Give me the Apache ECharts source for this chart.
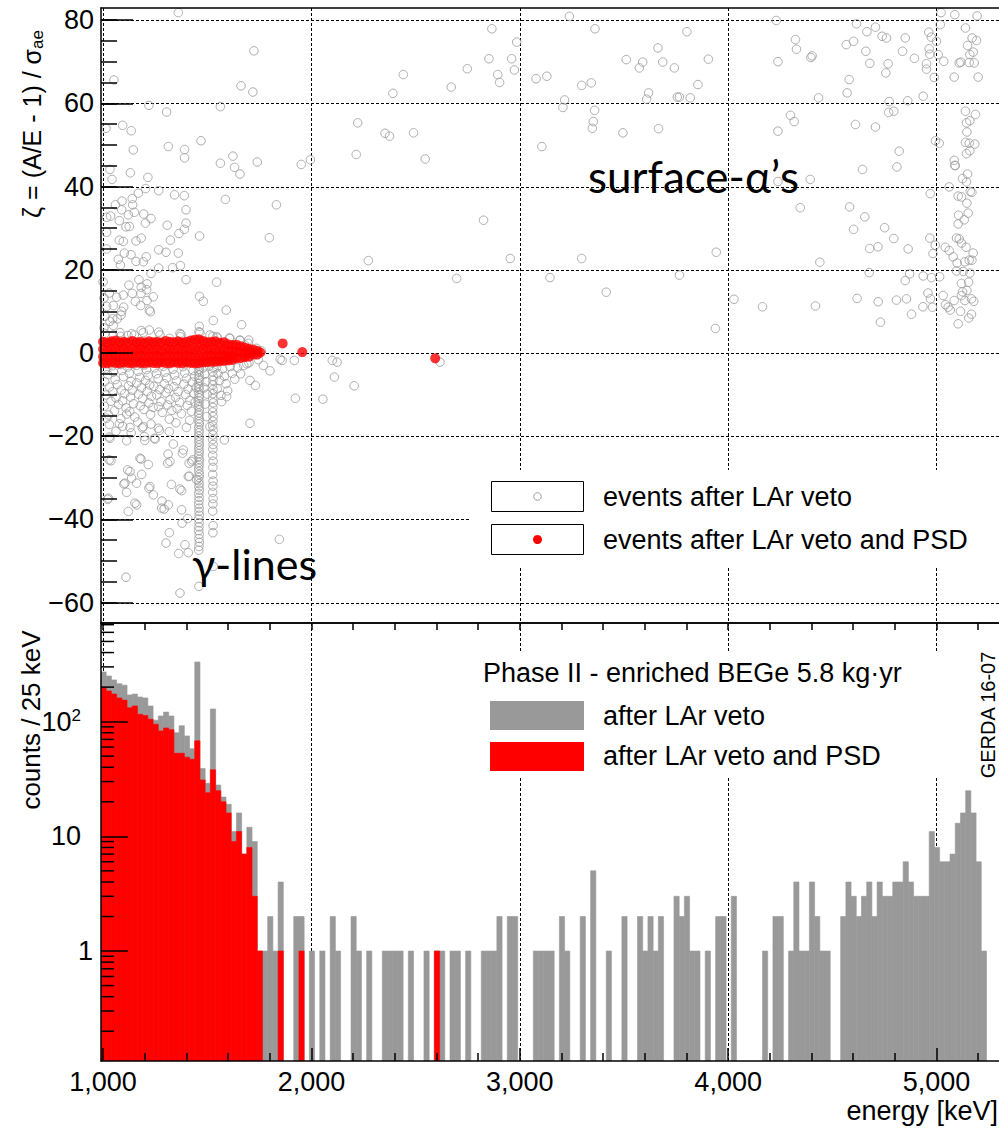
<!DOCTYPE html>
<html><head><meta charset="utf-8">
<script src="https://cdn.jsdelivr.net/npm/echarts@6/dist/echarts.min.js"></script>
<style>html,body{margin:0;padding:0;background:#fff}#c{width:999px;height:1128px}</style>
</head><body><div id="c"></div>
<script>
// ---------- axis ranges / ticks ----------
const energyMin = 990, energyMax = 5300;
const zetaMin = -64.9, zetaMax = 82.9;
const countsMin = 0.11, countsMax = 724;
const energyTicks = [1000, 2000, 3000, 4000, 5000];
const energyMinorTicks = [1200,1400,1600,1800,2200,2400,2600,2800,3200,3400,3600,3800,4200,4400,4600,4800,5200];
const energyTopTicks = [1000,1200,1400,1600,1800,2000,2200,2400,2600,2800,3000,3200,3400,3600,3800,4000,4200,4400,4600,4800,5000,5200];
const zetaTicks = [-60, -40, -20, 0, 20, 40, 60, 80];
const zetaMinorTicks = [-60,-55,-50,-45,-40,-35,-30,-25,-20,-15,-10,-5,0,5,10,15,20,25,30,35,40,45,50,55,60,65,70,75,80];
const countsMinorTicks = [0.2,0.3,0.4,0.5,0.6,0.7,0.8,0.9,2,3,4,5,6,7,8,9,20,30,40,50,60,70,80,90,200,300,400,500,600,700];

// ---------- histogram (25 keV bins starting at 990 keV) ----------
const binStart = 990, binWidth = 25;
const countsAfterLArVeto = [
 271,250,231,214,208,171,174,164,161,137,
 103,112,121,112,80,92,75,58,331,39,
 29,129,28,22,19,11,16,7,12,9,
 1,1,2,1,4,0,0,2,2,0,
 1,0,1,0,2,1,0,0,2,1,
 0,1,0,0,1,1,1,1,0,1,
 0,0,1,0,1,1,0,1,1,0,
 1,0,0,1,1,1,2,0,2,2,
 0,0,0,1,1,1,1,0,2,1,
 0,0,2,0,5,0,0,1,0,0,
 2,0,0,2,1,2,1,2,0,0,
 3,2,3,1,1,0,1,0,2,2,
 0,3,0,0,0,0,0,1,0,2,
 2,0,1,4,1,1,4,2,1,1,
 0,0,2,4,3,2,3,4,2,4,
 3,3,4,4,6,4,3,3,3,11,
 8,6,6,7,13,16,25,16,6,1];
const countsAfterLArVetoPSD = [
 198,185,174,161,154,132,137,116,113,105,
 95,83,88,85,53,53,49,47,68,31,
 24,38,25,20,16,9,11,7,8,3,
 1,0,0,0,1,0,0,0,1,0,
 0,0,0,0,0,0,0,0,0,0,
 0,0,0,0,0,0,0,0,0,0,
 0,0,0,0,1,0,0,0,0,0,
 0,0,0,0,0,0,0,0,0,0,
 0,0,0,0,0,0,0,0,0,0,
 0,0,0,0,0,0,0,0,0,0,
 0,0,0,0,0,0,0,0,0,0,
 0,0,0,0,0,0,0,0,0,0,
 0,0,0,0,0,0,0,0,0,0,
 0,0,0,0,0,0,0,0,0,0,
 0,0,0,0,0,0,0,0,0,0,
 0,0,0,0,0,0,0,0,0,0,
 0,0,0,0,0,0,0,0,0,0];

// ---------- scatter: events after LAr veto [energy keV, zeta] ----------
const lowEnergyHighZeta = [
[1361,81.8],[1724,72.6],[1052,65.6],[1662,64.2],[1719,62.7],[1220,59.5],[1305,57.9],[1563,59.2],[1014,54.0],[1094,54.7],
[1135,53.4],[1470,51.0],[1145,48.8],[1313,49.6],[1391,48.9],[1391,46.9],[1623,47.3],[1563,45.6],[1631,44.6],[1657,43.0],
[1740,45.9],[1951,45.3],[1995,46.4],[1033,44.1],[1043,41.7],[1131,43.3],[1215,42.2],[1204,39.5],[1267,39.0],[1343,38.0],
[1390,37.8],[1587,36.9],[1832,35.6],[1059,35.6],[1091,36.5],[1140,37.1],[1169,38.4],[1142,35.6],[1089,34.4],[1121,33.2],
[1150,33.8],[1195,33.4],[1230,32.3],[1203,31.2],[1398,34.4],[1398,31.2],[1390,29.7],[1308,30.7],[1364,28.7],[1323,27.1],
[1463,28.1],[1798,27.7],[1017,32.6],[1036,32.9],[1078,31.8],[1110,30.3],[1126,30.4],[1017,29.0],[1078,27.1],[1097,26.8],
[1158,26.9],[1183,27.6],[1017,25.0],[1102,24.0],[1134,23.6],[1073,22.5],[1083,21.1],[1158,22.0],[1193,21.9],[1207,23.1],
[1267,24.8],[1302,24.2],[1361,24.0],[1334,20.5],[1371,21.0],[1267,20.4],[1230,19.1],[1398,17.6],[1545,17.0],[1172,17.6],
[1124,16.3],[1183,15.8],[1211,16.6],[1209,15.2],[1140,14.3],[1182,14.3],[1030,14.4],[1004,13.2],[1065,13.4],[1097,13.9],
[1155,12.4],[1211,12.6],[1241,13.5],[1463,13.6],[1481,12.4],[1017,11.2],[1049,11.4],[1099,11.0],[1180,11.4],[1089,10.0],
[1222,10.3],[1227,9.9],[1591,10.3],[1009,8.8],[1046,8.2],[1068,8.2],[1086,9.1],[1529,7.8],[1665,6.8],[1462,6.4],
[1460,5.1],[1183,5.4],[1222,5.5],[1267,5.0],[1374,4.4],[1372,3.9],[1318,3.5],[1527,4.0],[1548,3.6],[1606,3.6],
[1657,3.0],[1699,3.1],[1084,4.0],[1119,4.2],[1150,4.3],[1004,6.0],[1049,6.6],[1033,7.6],[1000,17.1],
[1009,4.7],[1049,4.3],[1081,4.9],[1137,4.6],[1193,4.9],[1273,4.3],[1369,4.7],[1465,4.9],[1513,4.3],[1545,3.9],
[1609,3.5],[1657,3.1],[1697,2.3],[1737,1.1],[1725,-0.5],[1745,-1.6],[1700,-2.4],[1680,1.9],[1760,0.5]];
const lowEnergyCloud = [
[1004,-2.6],[1012,-3.8],[1022,-5.2],[1008,-6.9],[1030,-8.2],[1015,-10.1],[1038,-11.6],[1006,-12.8],[1026,-14.9],[1044,-3.1],
[1050,-4.6],[1058,-6.4],[1068,-7.6],[1046,-9.3],[1062,-10.8],[1074,-12.4],[1055,-13.9],[1083,-2.8],[1090,-4.2],[1098,-5.7],
[1087,-8.9],[1104,-9.8],[1094,-11.5],[1110,-13.2],[1085,-15.8],[1118,-3.4],[1126,-4.9],[1134,-6.8],[1122,-7.9],[1140,-9.0],
[1132,-10.6],[1146,-12.2],[1128,-14.1],[1152,-15.4],[1160,-3.0],[1168,-4.4],[1176,-5.9],[1162,-7.2],[1184,-8.4],[1170,-9.9],
[1190,-11.0],[1178,-12.7],[1196,-13.6],[1166,-16.6],[1200,-2.9],[1208,-4.0],[1216,-5.4],[1204,-6.6],[1224,-7.7],[1212,-9.2],
[1232,-10.4],[1220,-12.0],[1240,-13.1],[1228,-14.8],[1248,-3.6],[1256,-5.0],[1264,-6.2],[1244,-8.0],[1272,-8.8],[1258,-10.1],
[1278,-11.7],[1266,-12.9],[1284,-14.3],[1290,-3.2],[1298,-4.6],[1306,-6.0],[1294,-7.4],[1314,-8.6],[1302,-9.6],[1322,-11.2],
[1310,-12.5],[1330,-13.8],[1318,-15.9],[1336,-3.9],[1344,-5.3],[1352,-6.7],[1340,-8.1],[1360,-9.3],[1348,-10.7],[1368,-11.9],
[1356,-13.4],[1376,-14.6],[1384,-3.3],[1392,-4.8],[1400,-6.1],[1388,-7.5],[1408,-8.7],[1396,-10.0],[1416,-11.4],[1404,-12.6],
[1424,-14.0],[1432,-4.2],[1440,-5.6],[1428,-7.0],[1446,-8.3],[1436,-9.7],[1442,-11.8],[1480,-3.6],[1488,-5.1],[1494,-6.9],
[1484,-8.4],[1500,-9.9],[1490,-12.3],[1510,-3.1],[1545,-3.4],[1552,-5.0],[1560,-6.6],[1548,-8.6],[1566,-10.2],[1574,-3.8],
[1582,-5.6],[1590,-7.4],[1598,-9.1],[1610,-3.3],[1620,-4.9],[1632,-6.3],[1645,-3.6],[1660,-5.0],[1675,-3.0],[1690,-2.6],
[1030,-17.2],[1062,-18.8],[1094,-17.6],[1135,-19.2],[1188,-18.0],[1230,-17.1],[1270,-18.6],[1318,-18.9],[1350,-16.8],[1400,-17.9],
[1415,-16.2],[1030,-20.2],[1200,-21.0],[1250,-20.7],[1497,-15.3],[1513,-17.7],[1569,-11.7],[1593,-10.5],
[1017,-15.7],[1029,-25.7],[1038,-25.9],[1022,-35.2],[1033,-20.5],[1113,-21.1],[1078,-17.0],[1129,-17.9],[1193,-17.7],[1113,-14.7],
[1118,-28.1],[1129,-28.5],[1100,-31.5],[1113,-33.5],[1161,-31.3],[1185,-29.2],[1182,-25.5],[1217,-26.8],[1220,-32.5],[1241,-34.1],
[1161,-36.5],[1121,-38.1],[1283,-35.6],[1293,-37.5],[1313,-36.5],[1198,-20.1],[1246,-20.5],[1265,-18.1],[1337,-21.9],[1381,-24.1],
[1312,-24.3],[1310,-26.5],[1328,-31.6],[1369,-32.7],[1377,-33.1],[1414,-29.6],[1413,-26.5],[1430,-25.7],[1449,-30.5],
[1177,-25.3],[1321,-26.1],[1385,-23.3],[1425,-26.1],[1105,-31.3],[1137,-30.1],[1225,-32.1],[1409,-29.7],[1025,-34.9],[1153,-36.1],
[1281,-37.3],[1377,-37.7],[1379,-40.9],[1318,-43.2],[1302,-45.7],[1393,-46.1],[1363,-48.2],[1409,-48.0],[1406,-39.8],
[1110,-53.9],[1369,-57.7],[1460,-56.1],[1529,-51.3],[1582,-20.9],[1705,-16.9],[1846,-44.8],
[1769,-3.0],[1801,-4.3],[1705,-6.6],[1731,-7.8],[1859,-1.8],[1850,-1.5],[1918,-1.8],[1923,-10.9],[2055,-11.1],[2100,-1.8],
[2123,-2.2],[2110,-5.8],[2205,-7.9],[2617,-2.2]];
const gammaLineK40 = [
[1459,-1.9],[1461,-2.6],[1460,-3.2],[1462,-3.9],[1459,-4.5],[1461,-5.3],[1460,-6.0],[1462,-6.6],[1459,-7.4],[1460,-8.1],
[1461,-8.7],[1459,-9.5],[1462,-10.2],[1460,-10.8],[1461,-11.6],[1459,-12.3],[1460,-12.9],[1462,-13.7],[1460,-14.4],[1459,-15.0],
[1461,-15.8],[1460,-16.5],[1462,-17.1],[1459,-17.9],[1461,-18.6],[1460,-19.2],[1459,-20.0],[1461,-20.7],[1460,-21.4],[1462,-22.1],
[1459,-22.8],[1461,-23.5],[1460,-24.2],[1459,-24.9],[1462,-25.6],[1460,-26.3],[1461,-27.0],[1459,-27.7],[1460,-28.5],[1462,-29.2],
[1460,-29.9],[1459,-30.7],[1461,-31.4],[1460,-32.2],[1462,-33.0],[1459,-33.8],[1461,-34.7],[1460,-35.5],[1459,-36.4],[1461,-37.3],
[1460,-38.1],[1462,-39.0],[1459,-39.9],[1461,-40.8],[1460,-41.8],[1459,-42.7],[1461,-43.6],[1460,-44.6],[1462,-45.5],[1460,-46.5],[1459,-47.4]];
const gammaLineK42 = [
[1527,-2.3],[1528,-3.4],[1526,-4.5],[1528,-5.6],[1527,-6.6],[1526,-7.7],[1528,-8.8],[1527,-9.8],[1526,-10.9],[1528,-12.0],
[1527,-13.1],[1526,-14.2],[1528,-15.3],[1527,-16.4],[1526,-17.5],[1528,-18.6],[1527,-19.7],[1526,-20.8],[1528,-22.0],[1527,-23.1],
[1526,-24.6],[1528,-26.0],[1527,-27.5],[1526,-29.2],[1528,-30.8],[1527,-32.0],[1526,-33.5],[1528,-35.0],[1527,-36.3],[1526,-38.0],
[1528,-41.5],[1527,-43.2]];
const midEnergyAlphas = [
[3238,80.9],[2866,77.9],[3361,77.9],[2985,74.7],[2852,70.7],[2961,70.7],[2974,68.0],[2894,66.9],[2903,65.0],[2748,68.3],
[2671,63.9],[2441,66.9],[2391,62.4],[3078,65.9],[3130,66.5],[3297,64.3],[3343,64.9],[3215,60.8],[3207,59.0],[3359,58.3],
[3353,55.6],[3348,54.0],[3495,52.9],[3666,53.9],[3511,70.5],[3590,69.9],[3574,68.5],[3663,73.3],[3686,69.9],[3742,68.5],
[3802,77.2],[3905,70.6],[3855,64.5],[3618,62.5],[3609,61.0],[3756,61.5],[3766,61.5],[3818,61.3],[2222,55.3],[2353,52.8],
[2375,52.1],[2490,52.9],[2215,47.7],[2546,46.6],[3106,49.6],[2826,31.9],[2273,22.2],[2954,22.7],[2697,17.9],[3297,22.7],
[3145,18.1],[3415,14.6],[3943,24.2],[3766,18.7],[4028,12.9],[4165,11.1],[3939,5.9]];
const highEnergyAlphas = [
[4231,79.9],[4239,70.0],[4323,75.3],[4328,73.0],[4397,71.0],[4403,71.4],[4434,61.3],[4616,79.1],[4666,77.2],[4707,78.3],
[4739,76.1],[4760,75.7],[4602,74.9],[4567,74.1],[4661,72.5],[4680,69.6],[4768,69.5],[4757,67.3],[4581,65.7],[4571,62.5],
[4850,75.7],[4837,72.5],[4894,70.8],[4936,61.7],[4862,60.6],[4773,60.4],[4770,57.8],[4795,58.1],[4963,77.1],[4975,75.9],
[5000,74.9],[4965,73.1],[4968,71.8],[5008,71.7],[4952,69.5],[4952,68.2],[4989,66.2],[5035,70.1],[5022,81.8],[5088,81.3],
[5195,81.0],[5018,78.9],[5139,78.1],[5171,75.7],[5192,75.1],[5149,73.9],[5176,72.3],[5160,71.7],[5109,69.7],[5117,69.9],
[5157,69.8],[5181,69.7],[5085,66.3],[5200,66.3],[4299,57.1],[4317,55.6],[4239,53.3],[4611,54.9],[4707,54.3],[4821,48.5],
[4810,44.7],[4645,44.1],[4394,41.7],[4239,41.2],[4346,34.9],[4583,35.1],[4656,32.7],[4602,29.7],[4751,30.1],[4795,27.5],
[4679,25.1],[4719,25.5],[4864,25.0],[4440,21.8],[4677,19.3],[4850,17.4],[4871,19.0],[4936,18.5],[4976,18.1],[5015,18.3],
[4619,13.1],[4720,12.3],[4808,12.7],[4856,13.0],[4419,11.3],[4731,7.4],[4880,9.3],[4935,11.1],[4959,14.4],[4971,13.0],
[4981,11.0],[4968,27.6],[4994,25.9],[4983,23.9],[4970,38.3],[4995,51.0],[5013,50.4],[5061,39.9],[5085,46.3],[5090,45.0],
[5149,43.0],[5125,41.9],[5144,41.1],[5162,38.8],[5170,38.6],[5104,37.7],[5120,37.5],[5152,33.6],[5133,32.0],[5106,33.1],
[5104,31.0],[5096,27.6],[5109,27.4],[5120,26.4],[5142,25.4],[5042,25.4],[5061,24.6],[5080,23.1],[5099,21.6],[5136,21.9],
[5157,22.3],[5176,24.0],[5170,22.3],[5096,19.7],[5128,19.6],[5160,19.2],[5120,16.7],[5154,17.0],[5125,14.7],[5146,15.0],
[5120,13.8],[5168,13.0],[5179,12.4],[5136,12.6],[5085,12.6],[5032,13.8],[5043,11.6],[5056,11.0],[5066,10.3],[5115,10.0],
[5168,9.3],[5155,8.4],[5104,7.0],[5146,36.0],[5187,57.3],[5139,58.1],[5160,55.8],[5144,55.3],[5146,53.1],[5139,50.6],
[5157,50.4],[5184,50.2],[5160,48.6],[5144,47.9],[5088,45.1]];

// ---------- scatter: events after LAr veto and PSD ----------
const eventsAfterPSD = [
[1000,2.7],[1000,0.9],[1000,-0.9],[1000,-2.4],[1020,2.5],[1020,0.7],[1020,-1.0],[1020,-2.5],
[1040,2.8],[1040,1.0],[1040,-0.6],[1040,-2.3],[1060,3.0],[1060,1.1],[1060,-0.7],[1060,-2.4],
[1080,2.6],[1080,0.8],[1080,-0.9],[1080,-2.5],[1100,2.7],[1100,0.9],[1100,-0.8],[1100,-2.3],
[1120,2.5],[1120,0.6],[1120,-1.0],[1120,-2.4],[1140,2.9],[1140,1.0],[1140,-0.7],[1140,-2.5],
[1160,2.6],[1160,0.8],[1160,-0.9],[1160,-2.3],[1180,2.7],[1180,0.9],[1180,-0.6],[1180,-2.4],
[1200,2.5],[1200,0.7],[1200,-1.0],[1200,-2.5],[1220,2.8],[1220,1.0],[1220,-0.8],[1220,-2.3],
[1240,2.6],[1240,0.8],[1240,-0.9],[1240,-2.4],[1260,2.7],[1260,0.9],[1260,-0.7],[1260,-2.5],
[1280,2.5],[1280,0.6],[1280,-1.0],[1280,-2.3],[1300,2.9],[1300,1.1],[1300,-0.8],[1300,-2.4],
[1320,2.7],[1320,0.9],[1320,-0.6],[1320,-2.5],[1340,2.6],[1340,0.7],[1340,-0.9],[1340,-2.3],
[1360,2.8],[1360,1.0],[1360,-0.8],[1360,-2.4],[1380,2.5],[1380,0.8],[1380,-1.0],[1380,-2.5],
[1400,2.7],[1400,0.9],[1400,-0.7],[1400,-2.3],[1420,3.0],[1420,1.0],[1420,-0.8],[1420,-2.4],
[1440,3.2],[1440,1.2],[1440,-0.6],[1440,-2.5],[1460,3.3],[1460,1.3],[1460,-0.7],[1460,-2.4],
[1480,2.9],[1480,1.0],[1480,-0.9],[1480,-2.3],[1500,2.6],[1500,0.8],[1500,-0.8],[1500,-2.2],
[1520,2.7],[1520,0.9],[1520,-0.7],[1520,-2.1],[1540,2.8],[1540,0.8],[1540,-0.9],[1540,-2.1],
[1560,2.4],[1560,0.6],[1560,-0.8],[1560,-2.0],[1580,2.6],[1580,0.7],[1580,-0.7],[1580,-1.9],
[1600,2.1],[1600,0.5],[1600,-0.9],[1600,-1.8],[1620,1.9],[1620,0.4],[1620,-0.8],[1620,-1.7],
[1640,2.0],[1640,0.3],[1640,-1.3],[1660,1.6],[1660,0.2],[1660,-1.2],[1680,1.3],[1680,0.0],[1680,-1.0],
[1700,1.0],[1700,-0.1],[1700,-0.9],[1720,0.8],[1720,-0.3],[1740,0.5],[1740,-0.4],[1755,0.1],
[1862,2.3],[1956,0.2],[2594,-1.3]];

const eventsAfterLArVeto = [].concat(lowEnergyHighZeta, lowEnergyCloud, gammaLineK40, gammaLineK42, midEnergyAlphas, highEnergyAlphas);

// ---------- build chart ----------
const FONT = '"Liberation Sans", Arial, Helvetica, sans-serif';
const SANS2 = 'Lato, "Open Sans", sans-serif';
const BLACK = '#000';
const GREY = '#999999';
const RED = '#ff0000';

function histData(counts) {
  const d = [];
  counts.forEach((c, i) => { if (c > 0) d.push([binStart + i * binWidth, binStart + (i + 1) * binWidth, c]); });
  return d;
}
function histSeries(counts, color, z) {
  return {
    type: 'custom', xAxisIndex: 2, yAxisIndex: 2, z: z, silent: true, clip: true,
    data: histData(counts), encode: { x: [0, 1], y: 2 },
    renderItem: (params, api) => {
      const a = api.coord([api.value(0), api.value(2)]);
      const b = api.coord([api.value(1), countsMin]);
      return { type: 'rect', shape: { x: a[0], y: a[1], width: b[0] - a[0], height: b[1] - a[1] },
               style: { fill: color, stroke: color, lineWidth: 0.6 } };
    }
  };
}
function vGridSeries(xi, yi, lo, hi) {
  return {
    type: 'custom', xAxisIndex: xi, yAxisIndex: yi, z: 1, silent: true,
    data: energyTicks.map(v => [v, lo]), encode: { x: 0, y: 1 },
    renderItem: (p, api) => {
      const a = api.coord([api.value(0), hi]), b = api.coord([api.value(0), lo]);
      return { type: 'line', shape: { x1: Math.round(a[0]) + 0.5, y1: a[1], x2: Math.round(b[0]) + 0.5, y2: b[1] },
               style: { stroke: BLACK, lineWidth: 1, lineDash: [3, 2] } };
    }
  };
}
const hGrid = {
  type: 'custom', xAxisIndex: 0, yAxisIndex: 0, z: 1, silent: true,
  data: zetaTicks.map(v => [energyMin, v]), encode: { x: 0, y: 1 },
  renderItem: (p, api) => {
    const a = api.coord([energyMin, api.value(1)]), b = api.coord([energyMax, api.value(1)]);
    return { type: 'line', shape: { x1: a[0], y1: Math.round(a[1]) + 0.5, x2: b[0], y2: Math.round(b[1]) + 0.5 },
             style: { stroke: BLACK, lineWidth: 1, lineDash: [3, 2] } };
  }
};
const logMinorTickSeries = {
  type: 'custom', xAxisIndex: 2, yAxisIndex: 2, z: 20, silent: true,
  data: countsMinorTicks.map(v => [energyMin, v]), encode: { x: 0, y: 1 },
  renderItem: (p, api) => {
    const a = api.coord([energyMin, api.value(1)]);
    return { type: 'line', shape: { x1: a[0], y1: a[1], x2: a[0] + 13, y2: a[1] },
             style: { stroke: BLACK, lineWidth: 1.5 } };
  }
};

const lineStyle = { color: BLACK, width: 1.5 };
const noSplit = { show: false };
const option = {
  animation: false,
  backgroundColor: '#fff',
  grid: [
    { left: 101, top: 8, width: 898, height: 615 },
    { left: 101, top: 623, width: 898, height: 438 }
  ],
  xAxis: [
    { gridIndex: 0, type: 'value', min: energyMin, max: energyMax, position: 'bottom', z: 10,
      axisLine: { show: true, onZero: false, lineStyle }, axisTick: { show: false }, axisLabel: { show: false }, splitLine: noSplit },
    { gridIndex: 0, type: 'value', min: energyMin, max: energyMax, position: 'top', z: 10,
      axisLine: { show: true, onZero: false, lineStyle }, axisTick: { show: false }, axisLabel: { show: false }, splitLine: noSplit },
    { gridIndex: 1, type: 'value', min: energyMin, max: energyMax, position: 'bottom', z: 10,
      axisLine: { show: true, onZero: false, lineStyle },
      axisTick: { show: true, inside: true, length: 13, customValues: energyTicks, lineStyle },
      axisLabel: { show: true, customValues: energyTicks, margin: 7, fontSize: 27, color: BLACK, fontFamily: FONT,
                   formatter: v => Number(v).toLocaleString('en-US') },
      splitLine: noSplit },
    { gridIndex: 1, type: 'value', min: energyMin, max: energyMax, position: 'bottom', z: 10,
      axisLine: { show: false, onZero: false },
      axisTick: { show: true, inside: true, length: 8, customValues: energyMinorTicks, lineStyle },
      axisLabel: { show: false }, splitLine: noSplit },
    { gridIndex: 1, type: 'value', min: energyMin, max: energyMax, position: 'top', z: 10,
      axisLine: { show: true, onZero: false, lineStyle },
      axisTick: { show: true, inside: true, length: 7, customValues: energyTopTicks, lineStyle },
      axisLabel: { show: false }, splitLine: noSplit }
  ],
  yAxis: [
    { gridIndex: 0, type: 'value', min: zetaMin, max: zetaMax, position: 'left', z: 10,
      axisLine: { show: true, onZero: false, lineStyle },
      axisTick: { show: true, inside: true, length: 32, customValues: zetaTicks, lineStyle },
      axisLabel: { show: true, customValues: zetaTicks, margin: 7, fontSize: 27, color: BLACK, fontFamily: FONT,
                   formatter: v => (v < 0 ? '\u2212' + (-v) : '' + v) },
      splitLine: noSplit },
    { gridIndex: 0, type: 'value', min: zetaMin, max: zetaMax, position: 'left', z: 10,
      axisLine: { show: false, onZero: false },
      axisTick: { show: true, inside: true, length: 16, customValues: zetaMinorTicks, lineStyle },
      axisLabel: { show: false }, splitLine: noSplit },
    { gridIndex: 1, type: 'log', logBase: 10, min: countsMin, max: countsMax, position: 'left', z: 10,
      axisLine: { show: true, onZero: false, lineStyle },
      axisTick: { show: true, inside: true, length: 27, lineStyle },
      axisLabel: { show: true, showMinLabel: false, showMaxLabel: false, margin: 8, fontSize: 27, color: BLACK, fontFamily: FONT,
                   formatter: v => { const e = Math.round(Math.log10(v));
                     if (Math.abs(Math.log10(v) - e) > 1e-6) return '';
                     if (e === 0) return '1';
                     if (e === 1) return '{t|10}';
                     if (e === 2) return '10{s|2}';
                     return ''; },
                   rich: { t: { fontSize: 27, fontFamily: FONT, padding: [0, 12, 0, 0] },
                           s: { fontSize: 17, fontFamily: FONT, verticalAlign: 'top', padding: [0, 12, 12, 0] } } },
      splitLine: noSplit }
  ],
  series: [
    vGridSeries(0, 0, zetaMin, zetaMax),
    hGrid,
    vGridSeries(2, 2, countsMin, countsMax),
    { type: 'scatter', name: 'events after LAr veto', xAxisIndex: 0, yAxisIndex: 0, z: 3, silent: true,
      data: eventsAfterLArVeto, symbol: 'circle', symbolSize: 8.5,
      itemStyle: { color: 'rgba(255,255,255,0)', borderColor: GREY, borderWidth: 1 } },
    { type: 'scatter', name: 'events after LAr veto and PSD', xAxisIndex: 0, yAxisIndex: 0, z: 4, silent: true,
      data: eventsAfterPSD, symbol: 'circle', symbolSize: 10,
      itemStyle: { color: RED, borderWidth: 0 } },
    histSeries(countsAfterLArVeto, GREY, 3),
    histSeries(countsAfterLArVetoPSD, RED, 4),
    logMinorTickSeries
  ],
  graphic: [
    // top legend
    { type: 'rect', z: 50, shape: { x: 470, y: 470, width: 529, height: 96 }, style: { fill: '#fff' } },
    { type: 'rect', z: 51, shape: { x: 491.5, y: 481.5, width: 92, height: 30 }, style: { fill: '#fff', stroke: BLACK, lineWidth: 1 } },
    { type: 'circle', z: 52, shape: { cx: 537.5, cy: 496.5, r: 3.8 }, style: { fill: 'none', stroke: GREY, lineWidth: 1 } },
    { type: 'rect', z: 51, shape: { x: 491.5, y: 524.5, width: 92, height: 30 }, style: { fill: '#fff', stroke: BLACK, lineWidth: 1 } },
    { type: 'circle', z: 52, shape: { cx: 537.5, cy: 539.5, r: 4.5 }, style: { fill: RED } },
    { type: 'text', z: 52, x: 603, y: 497, style: { text: 'events after LAr veto', font: '27px ' + FONT, fill: BLACK, verticalAlign: 'middle' } },
    { type: 'text', z: 52, x: 603, y: 540, style: { text: 'events after LAr veto and PSD', font: '27px ' + FONT, fill: BLACK, verticalAlign: 'middle' } },
    // annotations
    { type: 'text', z: 52, x: 588, y: 176, style: { text: 'surface-\u03b1\u2019s', font: '44px ' + SANS2, fill: BLACK, verticalAlign: 'middle' } },
    { type: 'text', z: 52, x: 192, y: 563, style: { text: '\u03b3-lines', font: '43px ' + SANS2, fill: BLACK, verticalAlign: 'middle' } },
    // axis titles
    { type: 'text', z: 52, x: 32, y: 124, rotation: Math.PI / 2,
      style: { text: '\u03b6 = (A/E - 1) / \u03c3{sub|ae}', font: '25px ' + FONT, fill: BLACK, align: 'center', verticalAlign: 'middle',
               rich: { sub: { fontSize: 17, fontFamily: FONT, verticalAlign: 'bottom', padding: [10, 0, 0, 0] } } } },
    { type: 'text', z: 52, x: 31, y: 720, rotation: Math.PI / 2,
      style: { text: 'counts / 25 keV', font: '26px ' + FONT, fill: BLACK, align: 'center', verticalAlign: 'middle' } },
    { type: 'text', z: 52, x: 998, y: 1111, style: { text: 'energy [keV]', font: '27px ' + FONT, fill: BLACK, align: 'right', verticalAlign: 'middle' } },
    // histogram legend
    { type: 'rect', z: 50, shape: { x: 478, y: 653, width: 521, height: 124 }, style: { fill: '#fff' } },
    { type: 'text', z: 52, x: 483, y: 673, style: { text: 'Phase II - enriched BEGe 5.8 kg\u00b7yr', font: '27px ' + FONT, fill: BLACK, verticalAlign: 'middle' } },
    { type: 'rect', z: 51, shape: { x: 490, y: 701, width: 94, height: 29 }, style: { fill: GREY } },
    { type: 'rect', z: 51, shape: { x: 490, y: 742, width: 94, height: 29 }, style: { fill: RED } },
    { type: 'text', z: 52, x: 603, y: 716, style: { text: 'after LAr veto', font: '27px ' + FONT, fill: BLACK, verticalAlign: 'middle' } },
    { type: 'text', z: 52, x: 603, y: 756, style: { text: 'after LAr veto and PSD', font: '27px ' + FONT, fill: BLACK, verticalAlign: 'middle' } },
    { type: 'text', z: 52, x: 988, y: 715, rotation: Math.PI / 2,
      style: { text: 'GERDA 16-07', font: '20px ' + FONT, fill: BLACK, align: 'center', verticalAlign: 'middle' } }
  ]
};
const chart = echarts.init(document.getElementById('c'), null, { renderer: 'svg', width: 999, height: 1128 });
chart.setOption(option);
</script>
</body></html>
